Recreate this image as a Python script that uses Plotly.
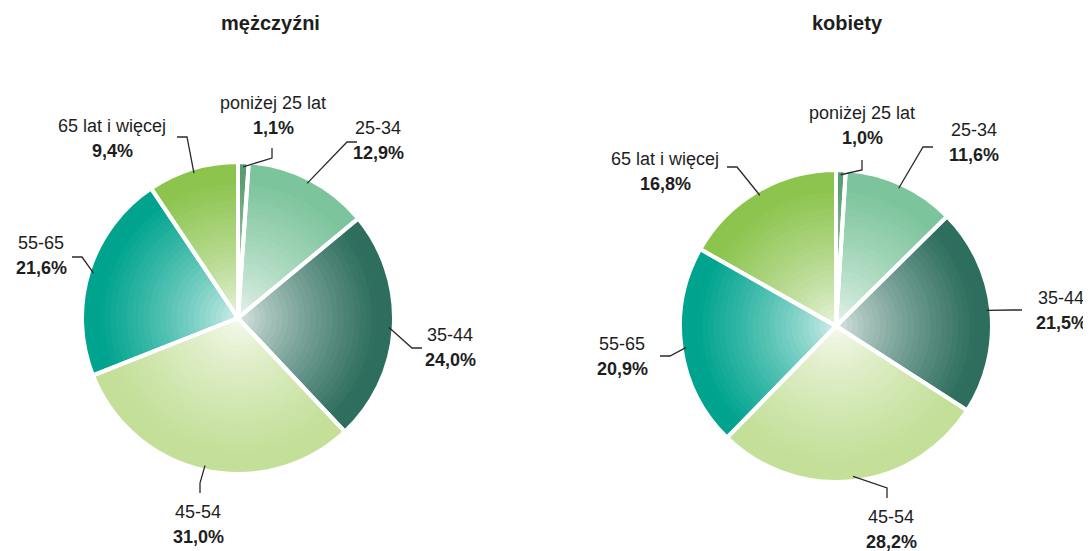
import numpy as np
import plotly.graph_objects as go

# data
age_groups = ['poniżej 25 lat', '25-34', '35-44', '45-54', '55-65', '65 lat i więcej']
men_share = [1.1, 12.9, 24.0, 31.0, 21.6, 9.4]
women_share = [1.0, 11.6, 21.5, 28.2, 20.9, 16.8]
panel_titles = ['mężczyźni', 'kobiety']

# outer colour of each slice (the fill fades to near white at the centre)
edge_colors = ['#5a9e70', '#7cc49c', '#2e6e5e', '#c3df98', '#00a48e', '#8cc44e']

# the page body has an 8px margin, so the figure is drawn 8px in from the window corner
OFF = 8
W, H = 1091 - OFF, 551 - OFF
R = 156
centres = [(238, 318), (836, 326)]
title_pos = [(270, 23), (847, 23)]

# label layout, px relative to pie centre (y down)
label_pos = [
    [(35, -202), (140, -178), (212, 29), (-40, 206), (-197, -63), (-126, -180)],
    [(26, -201), (138, -184), (225, -16), (55, 203), (-214, 30), (-171, -155)],
]
line_end = [
    [(34, -170, 'v'), (119, -176, 'h'), (184, 30, 'h'), (-38, 175, 'v'), (-166, -61, 'h'), (-61, -181, 'h')],
    [(26, -166, 'v'), (97, -179, 'h'), (186, -16, 'h'), (51, 172, 'v'), (-176, 30, 'h'), (-109, -159, 'h')],
]

N_LAYERS = 28
FONT = 'Liberation Sans, Arial, sans-serif'


def px(x, y):
    # window pixel -> paper coordinates
    return (x - OFF) / W, 1 - (y - OFF) / H


def hex_rgb(h):
    h = h.lstrip('#')
    return np.array([int(h[i:i + 2], 16) for i in (0, 2, 4)], dtype=float)


def shade(col, t):
    # t = radius fraction, 0 centre, 1 edge
    edge = hex_rgb(col)
    inner = 255 - (255 - edge) * 0.12
    f = min(1.0, t / 0.9) ** 0.75
    c = inner + (edge - inner) * f
    return 'rgb(%d,%d,%d)' % tuple(np.round(c))


def fmt(v):
    return f'{v:.1f}'.replace('.', ',') + '%'


fig = go.Figure()
annotations = []
shapes = []

for p, values in enumerate([men_share, women_share]):
    cx, cy = centres[p]

    # radial gradient built from stacked pies, biggest first
    for k in range(N_LAYERS):
        t = 1 - k / N_LAYERS
        rk = R * t
        x0, y1 = px(cx - rk, cy - rk)
        x1, y0 = px(cx + rk, cy + rk)
        fig.add_trace(go.Pie(
            labels=age_groups, values=values, sort=False,
            direction='clockwise', rotation=0,
            marker=dict(colors=[shade(c, t) for c in edge_colors], line=dict(width=0)),
            textinfo='none', hoverinfo='skip', showlegend=False,
            domain=dict(x=[x0, x1], y=[y0, y1]),
        ))

    # white separators on top
    x0, y1 = px(cx - R, cy - R)
    x1, y0 = px(cx + R, cy + R)
    fig.add_trace(go.Pie(
        labels=age_groups, values=values, sort=False,
        direction='clockwise', rotation=0,
        marker=dict(colors=['rgba(0,0,0,0)'] * len(values), line=dict(color='white', width=4)),
        textinfo='none', hoverinfo='label+percent', showlegend=False,
        domain=dict(x=[x0, x1], y=[y0, y1]),
    ))

    # labels with leader lines
    cum = np.cumsum([0] + list(values))
    total = cum[-1]
    for i, (lab, v) in enumerate(zip(age_groups, values)):
        theta = np.deg2rad((cum[i] + v / 2) / total * 360)
        sx, sy = cx + R * 0.97 * np.sin(theta), cy - R * 0.97 * np.cos(theta)
        ex, ey, kind = line_end[p][i]
        if kind == 'h':
            bx, by = ex - np.sign(ex) * 10, ey
        else:
            bx, by = ex, ey - np.sign(ey) * 10
        pts = [px(sx, sy), px(cx + bx, cy + by), px(cx + ex, cy + ey)]
        path = 'M {} {} L {} {} L {} {}'.format(*[c for pt in pts for c in pt])
        shapes.append(dict(type='path', path=path, xref='paper', yref='paper',
                           line=dict(color='#2a2a2a', width=1.3)))

        lx, ly = label_pos[p][i]
        ax, ay = px(cx + lx, cy + ly - 12.5)
        annotations.append(dict(x=ax, y=ay, xref='paper', yref='paper', text=lab,
                                showarrow=False, xanchor='center', yanchor='middle',
                                font=dict(family=FONT, size=18, color='#1e1e1e')))
        ax, ay = px(cx + lx, cy + ly + 12.5)
        annotations.append(dict(x=ax, y=ay, xref='paper', yref='paper', text='<b>' + fmt(v) + '</b>',
                                showarrow=False, xanchor='center', yanchor='middle',
                                font=dict(family=FONT, size=18, color='#1e1e1e')))

    tx, ty = px(*title_pos[p])
    annotations.append(dict(x=tx, y=ty, xref='paper', yref='paper', text='<b>' + panel_titles[p] + '</b>',
                            showarrow=False, xanchor='center', yanchor='middle',
                            font=dict(family=FONT, size=20, color='#1e1e1e')))

fig.update_layout(
    width=W, height=H,
    margin=dict(l=0, r=0, t=0, b=0),
    paper_bgcolor='white', plot_bgcolor='white',
    annotations=annotations, shapes=shapes,
    showlegend=False,
)

fig.write_html('out.html')
